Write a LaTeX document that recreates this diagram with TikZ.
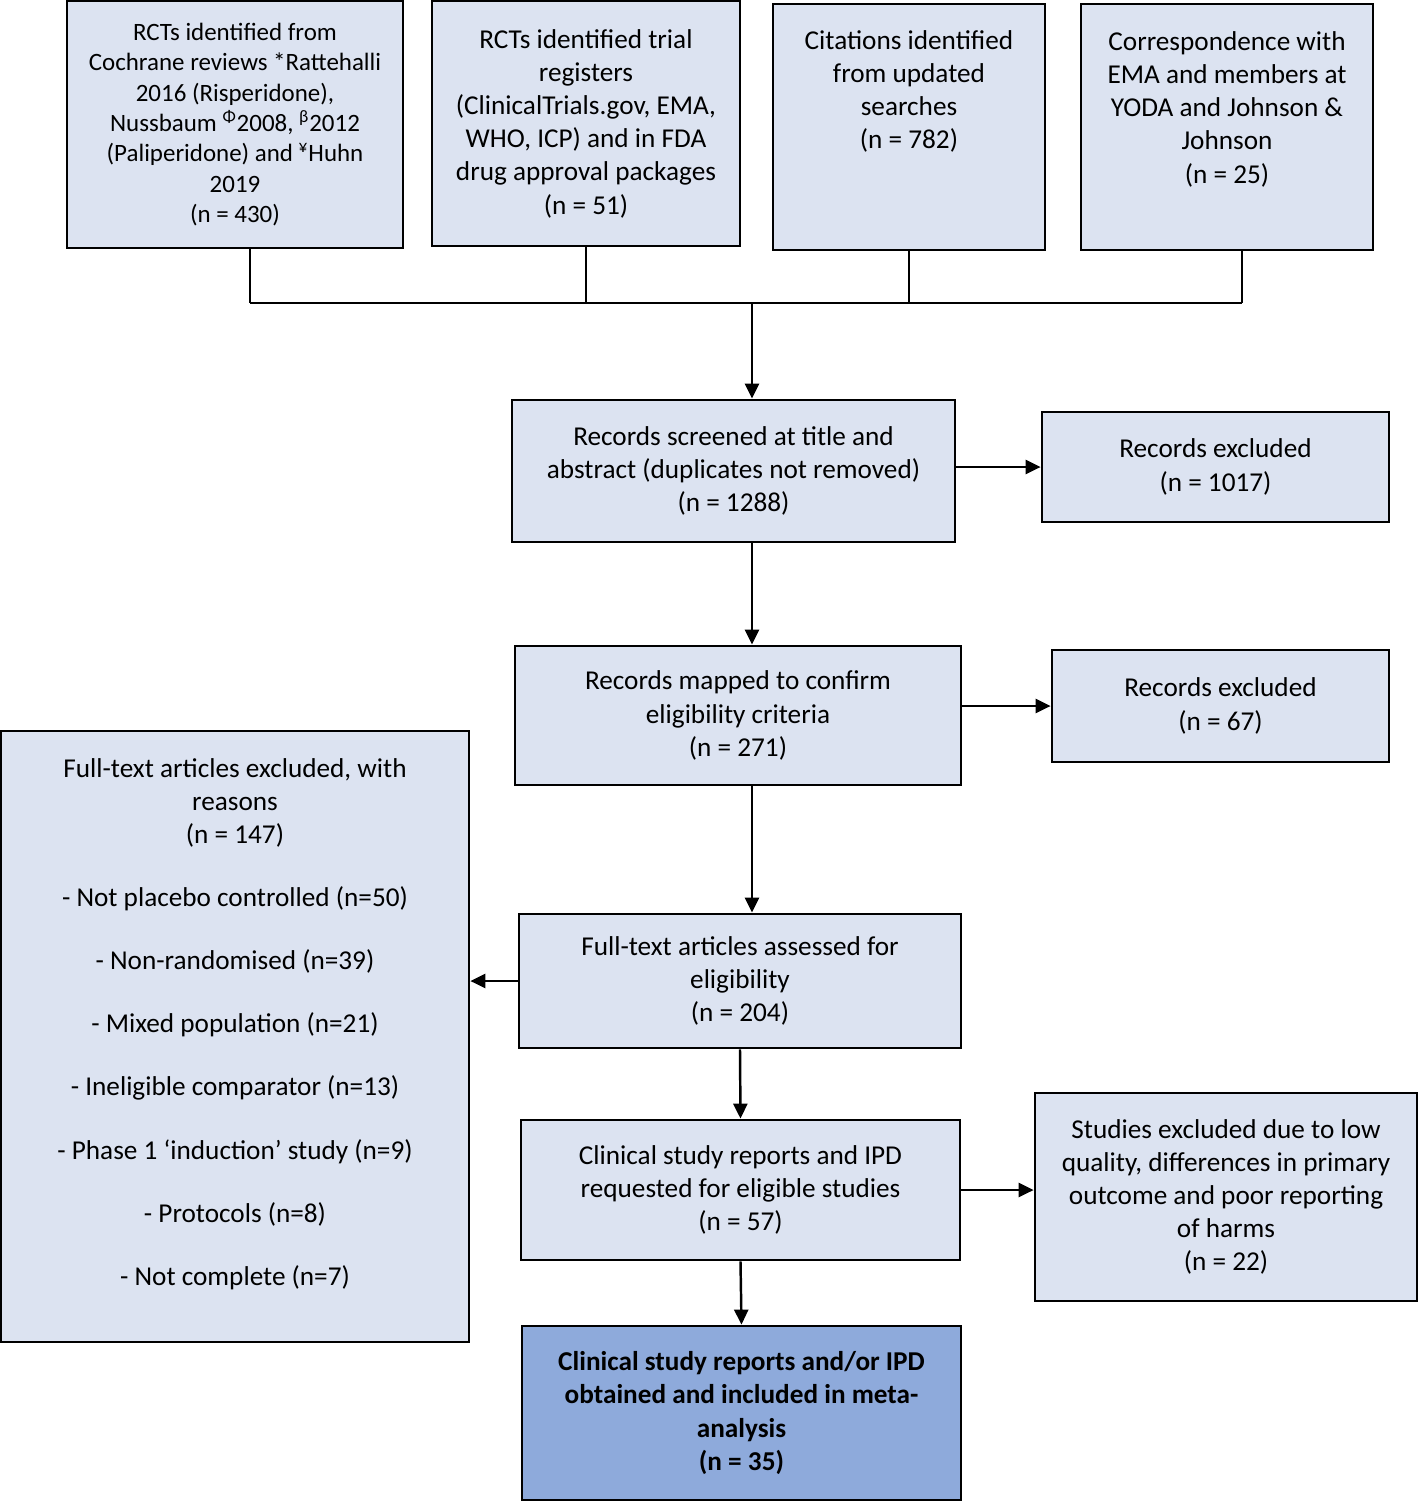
\documentclass[tikz,border=0pt]{standalone}
\usepackage{fontspec}
\setmainfont{Carlito}
\usetikzlibrary{arrows.meta}
\definecolor{boxfill}{HTML}{DCE3F1}
\definecolor{inclfill}{HTML}{8EAADB}
\tikzset{
  box/.style={draw, rectangle, line width=1.6pt, fill=boxfill, align=center,
    font=\fontsize{15.5}{18.9}\selectfont},
  txt/.style={align=center, inner sep=0pt, font=\fontsize{15.5}{18.9}\selectfont},
  arr/.style={line width=1.4pt, -{Triangle[length=0.3cm, width=0.28cm]}},
  link/.style={line width=1.4pt}
}
\begin{document}
\begin{tikzpicture}[x=0.02cm, y=-0.02cm]
    \useasboundingbox (0,0) rectangle (1419,1502);

    \node[box, minimum width=6.72cm, minimum height=4.94cm, font=\fontsize{14.2}{17.3}\selectfont] (coch) at (235,124.5) {RCTs identified from\\Cochrane reviews *Rattehalli\\2016 (Risperidone),\\Nussbaum \textsuperscript{Φ}2008, \textsuperscript{β}2012\\(Paliperidone) and \textsuperscript{¥}Huhn\\2019\\(n = 430)};
    \node[box, minimum width=6.16cm, minimum height=4.90cm] (reg) at (586,123.5) {RCTs identified trial\\registers\\(ClinicalTrials.gov, EMA,\\WHO, ICP) and in FDA\\drug approval packages\\(n = 51)};
    \node[box, minimum width=5.44cm, minimum height=4.92cm] (cit) at (909,127) {};
    \node[txt, anchor=north] (cittxt) at (909,30) {Citations identified\\from updated\\searches\\(n = 782)};
    \node[box, minimum width=5.84cm, minimum height=4.92cm] (corr) at (1227,127) {};
    \node[txt, anchor=north] (corrtxt) at (1227,31) {Correspondence with\\EMA and members at\\YODA and Johnson \&\\Johnson\\(n = 25)};

    \coordinate (hl) at (250,303);
    \coordinate (hm) at (752,303);
    \coordinate (hr) at (1242,303);

    \node[box, minimum width=8.86cm, minimum height=2.84cm] (scr) at (733.5,471) {Records screened at title and\\abstract (duplicates not removed)\\(n = 1288)};
    \node[box, minimum width=6.94cm, minimum height=2.2cm] (ex1) at (1215.5,467) {Records excluded\\(n = 1017)};

    \node[box, minimum width=8.92cm, minimum height=2.78cm] (map) at (738,715.5) {Records mapped to confirm\\eligibility criteria\\(n = 271)};
    \node[box, minimum width=6.74cm, minimum height=2.24cm] (ex2) at (1220.5,706) {Records excluded\\(n = 67)};

    \node[box, minimum width=8.84cm, minimum height=2.68cm] (full) at (740,981) {Full-text articles assessed for\\eligibility\\(n = 204)};
    \node[box, minimum width=9.36cm, minimum height=12.22cm] (ftx) at (235,1036.5) {};
    \node[txt, anchor=north] (ftxtxt) at (235,758) {Full-text articles excluded, with\\reasons\\(n = 147)\\[17pt]
      - Not placebo controlled (n=50)\\[17pt]
      - Non-randomised (n=39)\\[17pt]
      - Mixed population (n=21)\\[17pt]
      - Ineligible comparator (n=13)\\[17pt]
      - Phase 1 ‘induction’ study (n=9)\\[17pt]
      - Protocols (n=8)\\[17pt]
      - Not complete (n=7)};

    \node[box, minimum width=8.78cm, minimum height=2.8cm] (csr) at (740.5,1190) {Clinical study reports and IPD\\requested for eligible studies\\(n = 57)};
    \node[box, minimum width=7.64cm, minimum height=4.16cm] (ex3) at (1226,1197) {Studies excluded due to low\\quality, differences in primary\\outcome and poor reporting\\of harms\\(n = 22)};

    \node[box, fill=inclfill, minimum width=8.78cm, minimum height=3.48cm] (incl) at (741.5,1413) {\bfseries Clinical study reports and/or IPD\\\bfseries obtained and included in meta-\\\bfseries analysis\\\bfseries (n = 35)};

    \draw[link] (coch.south -| hl) -- (hl);
    \draw[link] (reg.south) -- (reg.south |- hl);
    \draw[link] (cit.south) -- (cit.south |- hl);
    \draw[link] (corr.south -| hr) -- (hr);
    \draw[link] (hl) -- (hr);
    \draw[arr] (hm) -- (hm |- scr.north);

    \draw[arr] (scr.east |- ex1.west) -- (ex1.west);
    \draw[arr] (scr.south -| hm) -- (map.north -| hm);
    \draw[arr] (map.east |- ex2.west) -- (ex2.west);
    \draw[arr] (map.south -| hm) -- (full.north -| hm);
    \draw[arr] (full.west) -- (full.west -| ftx.east);
    \draw[arr] (full.south) -- (csr.north);
    \draw[arr] (csr.east) -- (csr.east -| ex3.west);
    \draw[arr] (csr.south) -- (incl.north);
\end{tikzpicture}
\end{document}
